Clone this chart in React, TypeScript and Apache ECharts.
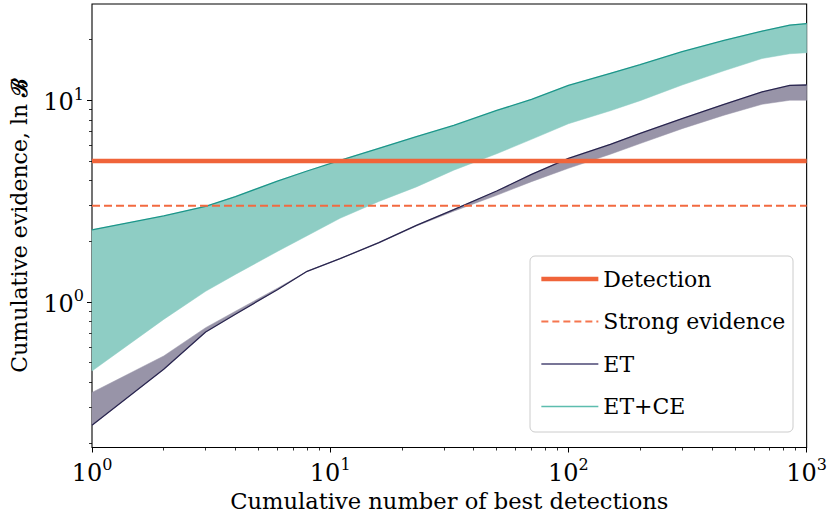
import React, { useEffect, useRef } from 'react';
import * as echarts from 'echarts';

// Cumulative number of best detections (x) and ln B bounds (y)
const nValues = [1, 2, 3, 4, 6, 8, 11, 16, 23, 33, 50, 70, 100, 150, 200, 300, 450, 650, 850, 1000];
const etceUpper = [2.28, 2.67, 2.98, 3.33, 3.97, 4.46, 5.03, 5.78, 6.6, 7.5, 8.9, 10.1, 11.85, 13.6, 15.0, 17.4, 19.8, 22.0, 23.6, 24.0];
const etceLower = [0.455, 0.82, 1.13, 1.37, 1.78, 2.13, 2.6, 3.15, 3.72, 4.5, 5.43, 6.4, 7.65, 8.87, 9.95, 11.9, 14.0, 16.1, 17.0, 17.2];
const etLine = [0.245, 0.464, 0.71, 0.87, 1.15, 1.42, 1.64, 1.97, 2.4, 2.87, 3.55, 4.29, 5.15, 6.05, 6.85, 8.11, 9.54, 11.0, 11.85, 11.9];
const etOther = [0.356, 0.54, 0.746, 0.9, 1.17, 1.42, 1.64, 1.96, 2.38, 2.82, 3.38, 3.95, 4.6, 5.4, 6.1, 7.23, 8.43, 9.55, 10.0, 10.0];

const thresholdDetection = 5;
const thresholdStrong = 3;

const xMajor = [1, 10, 100, 1000];
const xMinor = [2, 3, 4, 5, 6, 7, 8, 9, 20, 30, 40, 50, 60, 70, 80, 90, 200, 300, 400, 500, 600, 700, 800, 900];
const yMajor = [1, 10];
const yMinor = [0.2, 0.3, 0.4, 0.5, 0.6, 0.7, 0.8, 0.9, 2, 3, 4, 5, 6, 7, 8, 9, 20];

const FONT = 'DejaVu Serif';

const sciFormatter = (v: number) => `{b|10}{s|${Math.round(Math.log10(v))}}`;
const labelRich = {
  b: { fontSize: 24, fontFamily: FONT, color: '#000', lineHeight: 28, verticalAlign: 'bottom' },
  s: { fontSize: 16, fontFamily: FONT, color: '#000', lineHeight: 16, verticalAlign: 'top' },
};

function bandSeries(name: string, upper: number[], lower: number[], fill: string) {
  return {
    name,
    type: 'custom',
    silent: true,
    z: 1,
    data: nValues.map((n, i) => [n, upper[i], lower[i]]),
    encode: { x: 0, y: [1, 2] },
    renderItem: (params: any, api: any) => {
      if (params.dataIndex !== 0) return null;
      const pts: number[][] = [];
      for (let i = 0; i < nValues.length; i++) pts.push(api.coord([nValues[i], upper[i]]));
      for (let i = nValues.length - 1; i >= 0; i--) pts.push(api.coord([nValues[i], lower[i]]));
      return {
        type: 'polygon',
        shape: { points: pts },
        style: { fill, stroke: fill, lineWidth: 0.5 },
      };
    },
  };
}

export default function App() {
  const ref = useRef<HTMLDivElement>(null);
  useEffect(() => {
    if (!ref.current) return;
    const chart = echarts.init(ref.current, undefined, { renderer: 'svg' });
    const option: any = {
      animation: false,
      backgroundColor: '#fff',
      textStyle: { fontFamily: FONT },
      grid: {
        left: 81, right: 22, top: 4, bottom: 71.5,
        show: true, borderColor: '#000', borderWidth: 1.1, backgroundColor: 'transparent',
      },
      xAxis: [
        {
          type: 'log', logBase: 10, min: 1, max: 1000, position: 'bottom',
          axisLine: { show: false },
          splitLine: { show: false },
          axisTick: { show: true, inside: false, length: 5, lineStyle: { color: '#000', width: 1 }, customValues: xMajor },
          axisLabel: { customValues: xMajor, formatter: sciFormatter, rich: labelRich, margin: 9, fontFamily: FONT },
          name: 'Cumulative number of best detections',
          nameLocation: 'middle', nameGap: 36,
          nameTextStyle: { fontFamily: FONT, fontSize: 22.6, color: '#000' },
        },
        {
          type: 'log', logBase: 10, min: 1, max: 1000, position: 'bottom',
          axisLine: { show: false }, splitLine: { show: false },
          axisLabel: { show: false },
          axisTick: { show: true, inside: false, length: 3, lineStyle: { color: '#000', width: 0.8 }, customValues: xMinor },
        },
      ],
      yAxis: [
        {
          type: 'log', logBase: 10, min: 0.19, max: 30, position: 'left',
          axisLine: { show: false }, splitLine: { show: false },
          axisTick: { show: true, inside: false, length: 5, lineStyle: { color: '#000', width: 1 }, customValues: yMajor },
          axisLabel: { customValues: yMajor, formatter: sciFormatter, rich: labelRich, margin: 8, fontFamily: FONT },
          name: 'Cumulative evidence, ln {bb|ℬ}',
          nameLocation: 'middle', nameGap: 62, nameRotate: 90,
          nameTextStyle: {
            fontFamily: FONT, fontSize: 22, color: '#000',
            rich: { bb: { fontFamily: FONT, fontWeight: 'bold', fontSize: 22, color: '#000' } },
          },
        },
        {
          type: 'log', logBase: 10, min: 0.19, max: 30, position: 'left',
          axisLine: { show: false }, splitLine: { show: false },
          axisLabel: { show: false },
          axisTick: { show: true, inside: false, length: 3, lineStyle: { color: '#000', width: 0.8 }, customValues: yMinor },
        },
      ],
      legend: {
        orient: 'vertical',
        left: 539, top: 265,
        padding: 0,
        itemWidth: 57, itemHeight: 14, itemGap: 14.5,
        itemStyle: { opacity: 0 },
        textStyle: { fontFamily: FONT, fontSize: 22, color: '#000', lineHeight: 28 },
        data: [
          { name: 'Detection', lineStyle: { width: 4.7, color: '#f0643a' } },
          { name: 'Strong evidence', lineStyle: { width: 1.8, color: '#f5764f', type: [7, 4] } },
          { name: 'ET', lineStyle: { width: 1.6, color: '#4b4775' } },
          { name: 'ET+CE', lineStyle: { width: 1.6, color: '#5dbdae' } },
        ],
      },
      graphic: [
        {
          type: 'rect', z: 3, silent: true,
          shape: { x: 530, y: 256, width: 263, height: 176, r: 5 },
          style: { fill: 'rgba(255,255,255,0.8)', stroke: '#cccccc', lineWidth: 1 },
        },
      ],
      series: [
        bandSeries('ET+CE band', etceUpper, etceLower, '#8ecdc4'),
        bandSeries('ET band', etOther, etLine, '#9894a8'),
        {
          name: 'ET+CE', type: 'line', symbol: 'none', z: 3,
          data: nValues.map((n, i) => [n, etceUpper[i]]),
          lineStyle: { color: '#1c968a', width: 1.3 }, itemStyle: { color: '#5dbdae' },
        },
        {
          name: 'ET', type: 'line', symbol: 'none', z: 3,
          data: nValues.map((n, i) => [n, etLine[i]]),
          lineStyle: { color: '#29254f', width: 1.3 }, itemStyle: { color: '#4b4775' },
        },
        {
          name: 'Detection', type: 'line', symbol: 'none', z: 4,
          data: [[1, thresholdDetection], [1000, thresholdDetection]],
          lineStyle: { color: '#f0643a', width: 4.7 }, itemStyle: { color: '#f0643a' },
        },
        {
          name: 'Strong evidence', type: 'line', symbol: 'none', z: 4,
          data: [[1, thresholdStrong], [1000, thresholdStrong]],
          lineStyle: { color: '#f26a40', width: 1.8, type: [8, 4] }, itemStyle: { color: '#f26a40' },
        },
      ],
    };
    chart.setOption(option);
    return () => chart.dispose();
  }, []);
  return <div ref={ref} style={{ position: 'fixed', left: 0, top: 0, width: 830, height: 519 }} />;
}
